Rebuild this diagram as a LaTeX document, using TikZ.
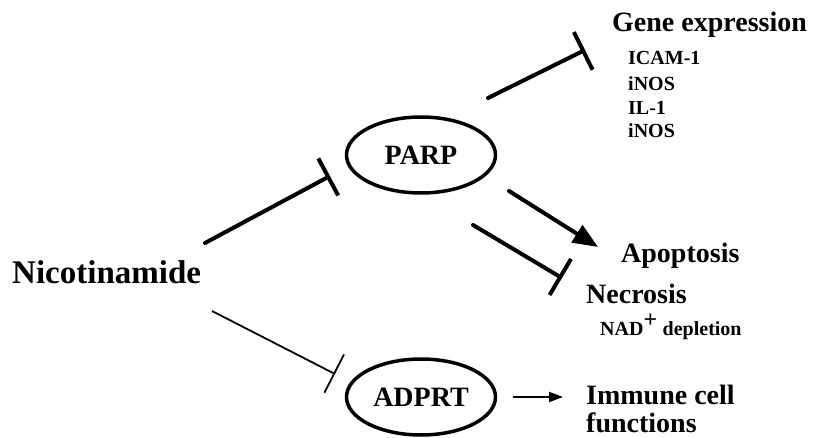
\documentclass[tikz,border=0pt]{standalone}
\usepackage{fontspec}
\setmainfont{Liberation Serif}
\usetikzlibrary{shapes.geometric,arrows.meta}
\begin{document}
\begin{tikzpicture}
  [x=1pt,y=-1pt,every node/.style={inner sep=0pt},
   big/.style={font=\bfseries\fontsize{28}{32}\selectfont},
   small/.style={font=\bfseries\fontsize{20}{24}\selectfont},
   enz/.style={draw,ellipse,line width=3.5pt,minimum width=149pt,minimum height=76pt,big},
   blocks/.style={line width=4pt,line cap=round,-{Bar[width=42pt]}},
   thinblocks/.style={line width=1.8pt,-{Bar[width=43pt]}}]
  \useasboundingbox (0,0) rectangle (813,438);
  \node[font=\bfseries\fontsize{33}{38}\selectfont,anchor=base west] (nic) at (12,283) {Nicotinamide};
  \node[enz] (parp) at (421,155) {PARP};
  \node[enz] (adprt) at (421,397) {ADPRT};
  \node[big,anchor=base west] (gene) at (612,32) {Gene expression};
  \node[small,anchor=base west] (g1) at (628,65) {ICAM-1};
  \node[small,anchor=base west] (g2) at (628,91) {iNOS};
  \node[small,anchor=base west] (g3) at (628,115) {IL-1};
  \node[small,anchor=base west] (g4) at (628,138) {iNOS};
  \node[big,anchor=base west] (apo) at (621,262) {Apoptosis};
  \node[big,anchor=base west] (nec) at (586,303) {Necrosis};
  \node[small,anchor=base west] (nad) at (600,335) {NAD\textsuperscript{\fontsize{24}{24}\selectfont +} depletion};
  \node[big,anchor=base west] (imm) at (586,404) {Immune cell};
  \node[big,anchor=base west] (fun) at (586,432) {functions};

  % ends of the connectors
  \coordinate (n1) at (205,243);
  \coordinate (p1) at (330,176);
  \coordinate (p2) at (488,98);
  \coordinate (g0) at (585,50);
  \coordinate (p3) at (509,191);
  \coordinate (a0) at (598,247);
  \coordinate (p4) at (473,225);
  \coordinate (e0) at (562,278);
  \coordinate (n2) at (212,311);
  \coordinate (d1) at (335,374);
  \coordinate (d2) at (513,397);
  \coordinate (i0) at (563,397);

  \draw [blocks](n1) -- (p1);
  \draw [blocks](p2) -- (g0);
  \draw [line width=4pt,line cap=round,-{Triangle[length=25pt,width=20pt]}](p3) -- (a0);
  \draw [blocks](p4) -- (e0);
  \draw [thinblocks](n2) -- (d1);
  \draw [line width=2pt,-{Triangle[length=14pt,width=10pt]}](d2) -- (i0);
\end{tikzpicture}
\end{document}
